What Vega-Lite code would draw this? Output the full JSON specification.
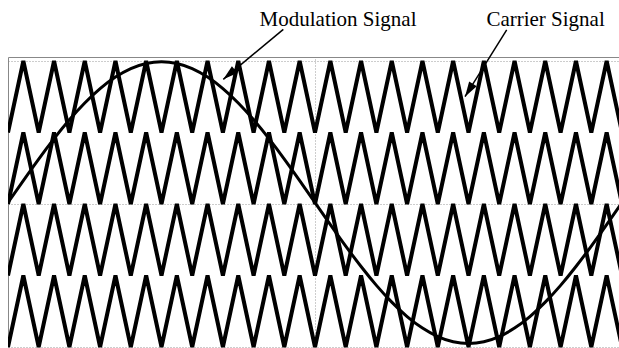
{
  "$schema": "https://vega.github.io/schema/vega-lite/v6.json",
  "width": 611,
  "height": 291,
  "autosize": {"type": "none"},
  "padding": {"left": 8, "top": 57, "right": 0, "bottom": 0},
  "background": "white",
  "config": {
    "view": {"stroke": null},
    "font": "Liberation Serif",
    "axis": {
      "labels": false,
      "ticks": false,
      "grid": true,
      "gridColor": "#9a9a9a",
      "gridDash": [1, 2],
      "gridWidth": 1,
      "domain": true,
      "domainColor": "#888888",
      "domainWidth": 1
    }
  },
  "datasets": {
    "carrier": [
      {"carrier":"C1","t":0,"v":1},{"carrier":"C1","t":0.5,"v":2},{"carrier":"C1","t":1,"v":1},{"carrier":"C1","t":1.5,"v":2},{"carrier":"C1","t":2,"v":1},{"carrier":"C1","t":2.5,"v":2},{"carrier":"C1","t":3,"v":1},{"carrier":"C1","t":3.5,"v":2},{"carrier":"C1","t":4,"v":1},{"carrier":"C1","t":4.5,"v":2},{"carrier":"C1","t":5,"v":1},{"carrier":"C1","t":5.5,"v":2},{"carrier":"C1","t":6,"v":1},{"carrier":"C1","t":6.5,"v":2},{"carrier":"C1","t":7,"v":1},{"carrier":"C1","t":7.5,"v":2},{"carrier":"C1","t":8,"v":1},{"carrier":"C1","t":8.5,"v":2},{"carrier":"C1","t":9,"v":1},{"carrier":"C1","t":9.5,"v":2},{"carrier":"C1","t":10,"v":1},{"carrier":"C1","t":10.5,"v":2},{"carrier":"C1","t":11,"v":1},{"carrier":"C1","t":11.5,"v":2},{"carrier":"C1","t":12,"v":1},{"carrier":"C1","t":12.5,"v":2},{"carrier":"C1","t":13,"v":1},{"carrier":"C1","t":13.5,"v":2},{"carrier":"C1","t":14,"v":1},{"carrier":"C1","t":14.5,"v":2},{"carrier":"C1","t":15,"v":1},{"carrier":"C1","t":15.5,"v":2},{"carrier":"C1","t":16,"v":1},{"carrier":"C1","t":16.5,"v":2},{"carrier":"C1","t":17,"v":1},{"carrier":"C1","t":17.5,"v":2},{"carrier":"C1","t":18,"v":1},{"carrier":"C1","t":18.5,"v":2},{"carrier":"C1","t":19,"v":1},{"carrier":"C1","t":19.5,"v":2},{"carrier":"C1","t":20,"v":1},
      {"carrier":"C2","t":0,"v":0},{"carrier":"C2","t":0.5,"v":1},{"carrier":"C2","t":1,"v":0},{"carrier":"C2","t":1.5,"v":1},{"carrier":"C2","t":2,"v":0},{"carrier":"C2","t":2.5,"v":1},{"carrier":"C2","t":3,"v":0},{"carrier":"C2","t":3.5,"v":1},{"carrier":"C2","t":4,"v":0},{"carrier":"C2","t":4.5,"v":1},{"carrier":"C2","t":5,"v":0},{"carrier":"C2","t":5.5,"v":1},{"carrier":"C2","t":6,"v":0},{"carrier":"C2","t":6.5,"v":1},{"carrier":"C2","t":7,"v":0},{"carrier":"C2","t":7.5,"v":1},{"carrier":"C2","t":8,"v":0},{"carrier":"C2","t":8.5,"v":1},{"carrier":"C2","t":9,"v":0},{"carrier":"C2","t":9.5,"v":1},{"carrier":"C2","t":10,"v":0},{"carrier":"C2","t":10.5,"v":1},{"carrier":"C2","t":11,"v":0},{"carrier":"C2","t":11.5,"v":1},{"carrier":"C2","t":12,"v":0},{"carrier":"C2","t":12.5,"v":1},{"carrier":"C2","t":13,"v":0},{"carrier":"C2","t":13.5,"v":1},{"carrier":"C2","t":14,"v":0},{"carrier":"C2","t":14.5,"v":1},{"carrier":"C2","t":15,"v":0},{"carrier":"C2","t":15.5,"v":1},{"carrier":"C2","t":16,"v":0},{"carrier":"C2","t":16.5,"v":1},{"carrier":"C2","t":17,"v":0},{"carrier":"C2","t":17.5,"v":1},{"carrier":"C2","t":18,"v":0},{"carrier":"C2","t":18.5,"v":1},{"carrier":"C2","t":19,"v":0},{"carrier":"C2","t":19.5,"v":1},{"carrier":"C2","t":20,"v":0},
      {"carrier":"C3","t":0,"v":-1},{"carrier":"C3","t":0.5,"v":0},{"carrier":"C3","t":1,"v":-1},{"carrier":"C3","t":1.5,"v":0},{"carrier":"C3","t":2,"v":-1},{"carrier":"C3","t":2.5,"v":0},{"carrier":"C3","t":3,"v":-1},{"carrier":"C3","t":3.5,"v":0},{"carrier":"C3","t":4,"v":-1},{"carrier":"C3","t":4.5,"v":0},{"carrier":"C3","t":5,"v":-1},{"carrier":"C3","t":5.5,"v":0},{"carrier":"C3","t":6,"v":-1},{"carrier":"C3","t":6.5,"v":0},{"carrier":"C3","t":7,"v":-1},{"carrier":"C3","t":7.5,"v":0},{"carrier":"C3","t":8,"v":-1},{"carrier":"C3","t":8.5,"v":0},{"carrier":"C3","t":9,"v":-1},{"carrier":"C3","t":9.5,"v":0},{"carrier":"C3","t":10,"v":-1},{"carrier":"C3","t":10.5,"v":0},{"carrier":"C3","t":11,"v":-1},{"carrier":"C3","t":11.5,"v":0},{"carrier":"C3","t":12,"v":-1},{"carrier":"C3","t":12.5,"v":0},{"carrier":"C3","t":13,"v":-1},{"carrier":"C3","t":13.5,"v":0},{"carrier":"C3","t":14,"v":-1},{"carrier":"C3","t":14.5,"v":0},{"carrier":"C3","t":15,"v":-1},{"carrier":"C3","t":15.5,"v":0},{"carrier":"C3","t":16,"v":-1},{"carrier":"C3","t":16.5,"v":0},{"carrier":"C3","t":17,"v":-1},{"carrier":"C3","t":17.5,"v":0},{"carrier":"C3","t":18,"v":-1},{"carrier":"C3","t":18.5,"v":0},{"carrier":"C3","t":19,"v":-1},{"carrier":"C3","t":19.5,"v":0},{"carrier":"C3","t":20,"v":-1},
      {"carrier":"C4","t":0,"v":-2},{"carrier":"C4","t":0.5,"v":-1},{"carrier":"C4","t":1,"v":-2},{"carrier":"C4","t":1.5,"v":-1},{"carrier":"C4","t":2,"v":-2},{"carrier":"C4","t":2.5,"v":-1},{"carrier":"C4","t":3,"v":-2},{"carrier":"C4","t":3.5,"v":-1},{"carrier":"C4","t":4,"v":-2},{"carrier":"C4","t":4.5,"v":-1},{"carrier":"C4","t":5,"v":-2},{"carrier":"C4","t":5.5,"v":-1},{"carrier":"C4","t":6,"v":-2},{"carrier":"C4","t":6.5,"v":-1},{"carrier":"C4","t":7,"v":-2},{"carrier":"C4","t":7.5,"v":-1},{"carrier":"C4","t":8,"v":-2},{"carrier":"C4","t":8.5,"v":-1},{"carrier":"C4","t":9,"v":-2},{"carrier":"C4","t":9.5,"v":-1},{"carrier":"C4","t":10,"v":-2},{"carrier":"C4","t":10.5,"v":-1},{"carrier":"C4","t":11,"v":-2},{"carrier":"C4","t":11.5,"v":-1},{"carrier":"C4","t":12,"v":-2},{"carrier":"C4","t":12.5,"v":-1},{"carrier":"C4","t":13,"v":-2},{"carrier":"C4","t":13.5,"v":-1},{"carrier":"C4","t":14,"v":-2},{"carrier":"C4","t":14.5,"v":-1},{"carrier":"C4","t":15,"v":-2},{"carrier":"C4","t":15.5,"v":-1},{"carrier":"C4","t":16,"v":-2},{"carrier":"C4","t":16.5,"v":-1},{"carrier":"C4","t":17,"v":-2},{"carrier":"C4","t":17.5,"v":-1},{"carrier":"C4","t":18,"v":-2},{"carrier":"C4","t":18.5,"v":-1},{"carrier":"C4","t":19,"v":-2},{"carrier":"C4","t":19.5,"v":-1},{"carrier":"C4","t":20,"v":-2}
    ],
    "modulation": [
      {"t":0,"v":0.02},{"t":0.5,"v":0.328},{"t":1,"v":0.629},{"t":1.5,"v":0.914},{"t":2,"v":1.178},{"t":2.5,"v":1.413},{"t":3,"v":1.614},{"t":3.5,"v":1.775},{"t":4,"v":1.894},{"t":4.5,"v":1.966},{"t":5,"v":1.99},
      {"t":5.5,"v":1.966},{"t":6,"v":1.894},{"t":6.5,"v":1.775},{"t":7,"v":1.614},{"t":7.5,"v":1.413},{"t":8,"v":1.178},{"t":8.5,"v":0.914},{"t":9,"v":0.629},{"t":9.5,"v":0.328},{"t":10,"v":0.02},
      {"t":10.5,"v":-0.288},{"t":11,"v":-0.589},{"t":11.5,"v":-0.874},{"t":12,"v":-1.138},{"t":12.5,"v":-1.373},{"t":13,"v":-1.574},{"t":13.5,"v":-1.735},{"t":14,"v":-1.854},{"t":14.5,"v":-1.926},{"t":15,"v":-1.95},
      {"t":15.5,"v":-1.926},{"t":16,"v":-1.854},{"t":16.5,"v":-1.735},{"t":17,"v":-1.574},{"t":17.5,"v":-1.373},{"t":18,"v":-1.138},{"t":18.5,"v":-0.874},{"t":19,"v":-0.589},{"t":19.5,"v":-0.288},{"t":20,"v":0.02}
    ],
    "notes": [
      {"label":"Modulation Signal","t":10.75,"v":2.49,"t0":8.968,"v0":2.443,"t1":7.013,"v1":1.744},
      {"label":"Carrier Signal","t":17.51,"v":2.49,"t0":16.244,"v0":2.434,"t1":14.886,"v1":1.501}
    ]
  },
  "layer": [
    {
      "data": {"name": "carrier"},
      "mark": {"type": "line", "color": "black", "strokeWidth": 4, "clip": true},
      "encoding": {
        "x": {
          "field": "t", "type": "quantitative",
          "scale": {"domain": [0, 19.902], "nice": false, "zero": false},
          "axis": {"orient": "top", "values": [0, 10], "title": null}
        },
        "y": {
          "field": "v", "type": "quantitative",
          "scale": {"domain": [-2.014, 2.056], "nice": false, "zero": false},
          "axis": {"orient": "left", "values": [-2, 0, 2], "title": null}
        },
        "detail": {"field": "carrier"}
      }
    },
    {
      "data": {"name": "modulation"},
      "mark": {"type": "line", "color": "black", "strokeWidth": 3, "interpolate": "natural", "clip": true},
      "encoding": {
        "x": {"field": "t", "type": "quantitative"},
        "y": {"field": "v", "type": "quantitative"}
      }
    },
    {
      "data": {"name": "notes"},
      "mark": {"type": "rule", "color": "black", "strokeWidth": 1.5},
      "encoding": {
        "x": {"field": "t0", "type": "quantitative"},
        "y": {"field": "v0", "type": "quantitative"},
        "x2": {"field": "t1"},
        "y2": {"field": "v1"}
      }
    },
    {
      "data": {"name": "notes"},
      "transform": [{"filter": "datum.label === 'Modulation Signal'"}],
      "mark": {"type": "point", "shape": "M0,0L0.6,2L-0.6,2Z", "filled": true, "color": "black", "opacity": 1, "size": 225, "angle": 230},
      "encoding": {
        "x": {"field": "t1", "type": "quantitative"},
        "y": {"field": "v1", "type": "quantitative"}
      }
    },
    {
      "data": {"name": "notes"},
      "transform": [{"filter": "datum.label === 'Carrier Signal'"}],
      "mark": {"type": "point", "shape": "M0,0L0.6,2L-0.6,2Z", "filled": true, "color": "black", "opacity": 1, "size": 225, "angle": 212},
      "encoding": {
        "x": {"field": "t1", "type": "quantitative"},
        "y": {"field": "v1", "type": "quantitative"}
      }
    },
    {
      "data": {"name": "notes"},
      "mark": {"type": "text", "font": "Liberation Serif", "fontSize": 21, "color": "black", "align": "center", "baseline": "alphabetic"},
      "encoding": {
        "x": {"field": "t", "type": "quantitative"},
        "y": {"field": "v", "type": "quantitative"},
        "text": {"field": "label"}
      }
    }
  ]
}
